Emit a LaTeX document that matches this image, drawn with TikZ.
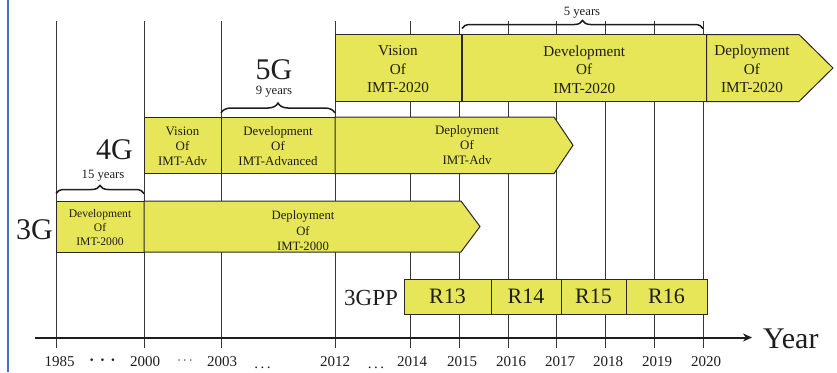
\documentclass[tikz,border=0pt]{standalone}
\usepackage{fontspec}
\setmainfont{Liberation Serif}
\usetikzlibrary{decorations.pathreplacing,arrows.meta}
\definecolor{boxyellow}{RGB}{231,229,88}
\definecolor{edgegray}{RGB}{40,40,40}
\definecolor{gridgray}{RGB}{55,55,55}
\definecolor{leftblue}{RGB}{70,110,200}
\definecolor{inkc}{RGB}{30,30,30}
\newcommand{\myfs}[2]{\fontsize{#1}{#2}\selectfont}
\begin{document}
\begin{tikzpicture}[x=1pt,y=-1pt,
  box/.style={draw=edgegray, fill=boxyellow, line width=1pt, inner sep=0pt, align=center, text=inkc},
  arrowbox/.style={draw=edgegray, fill=boxyellow, line width=1pt},
  boxtext/.style={inner sep=0pt, align=center, text=inkc},
  gridline/.style={draw=gridgray, line width=0.9pt},
  bracket/.style={decorate, decoration={brace, amplitude=#1}, line width=1.5pt, draw=inkc},
  biglabel/.style={inner sep=0pt, text=inkc, font=\myfs{30}{30}},
  yearlabel/.style={inner sep=0pt, text=inkc, font=\myfs{15}{15}},
  spanlabel/.style={inner sep=0pt, text=inkc, font=\myfs{12.7}{13}},
  rlabel/.style={font=\myfs{22}{22}},
  row5/.style={font=\myfs{15.2}{18.5}},
  row4/.style={font=\myfs{12.9}{15}},
  row3/.style={font=\myfs{12.7}{15.5}},
  lowtext/.style={text depth=0pt}
]
\useasboundingbox (0,0) rectangle (837,372);
% left blue rule
\draw[leftblue, line width=2pt] (8,0) -- (8,372);

% grid lines
\foreach \gx in {56,144,221,335,410,459,508,556,605,654,703}
  \draw[gridline] (\gx,21) -- (\gx,348);

% axis
\coordinate (axL) at (35,337.5);
\coordinate (axR) at (752,337.5);
\draw[line width=2pt, draw=inkc, -{Stealth[length=9pt,width=8pt]}] (axL) -- (axR);
\node[biglabel, anchor=west] (year) at (763,339) {Year};

% year labels
\node[yearlabel] (y1985) at (59.5,362) {1985};
\node[yearlabel] (y2000) at (145,362) {2000};
\node[yearlabel] (y2003) at (222,362) {2003};
\node[yearlabel] (y2012) at (335,362) {2012};
\node[yearlabel] (y2014) at (412,362) {2014};
\node[yearlabel] (y2015) at (462,362) {2015};
\node[yearlabel] (y2016) at (511,362) {2016};
\node[yearlabel] (y2017) at (560,362) {2017};
\node[yearlabel] (y2018) at (608,362) {2018};
\node[yearlabel] (y2019) at (657,362) {2019};
\node[yearlabel] (y2020) at (706,362) {2020};
\node[inner sep=0pt, text=inkc, font=\bfseries\myfs{16}{16}] (dotsA) at (102.5,362) {·\,\,·\,\,·};
\node[inner sep=0pt, text=inkc, font=\myfs{12}{12}] (dotsB) at (185,362) {·\,·\,·};
\node[inner sep=0pt, text=inkc, font=\myfs{15}{15}, anchor=base] (dotsC) at (262.5,368) {.\,.\,.};
\node[inner sep=0pt, text=inkc, font=\myfs{15}{15}, anchor=base] (dotsD) at (376,368) {.\,.\,.};

% 5G row
\node[box, row5, minimum width=126, minimum height=67] (v5) at (398,68) {};
\node[boxtext, row5] (v5t) at (398,69.5) {Vision\\Of\\IMT-2020};
\node[box, row5, minimum width=243.5, minimum height=67] (d5) at (584.25,68) {};
\node[boxtext, row5] (d5t) at (584.25,69.5) {Development\\Of\\IMT-2020};
\draw[arrowbox] (706.5,34.5) -- (799,34.5) -- (833,68) -- (799,101.5) -- (706.5,101.5) -- cycle;
\node[boxtext, row5] (dep5) at (752,69) {Deployment\\Of\\IMT-2020};

% 4G row
\node[box, row4, minimum width=77, minimum height=56.5] (v4) at (182.5,145.25) {};
\node[boxtext, row4] (v4t) at (182.5,146.5) {Vision\\Of\\IMT-Adv};
\node[box, row4, minimum width=114, minimum height=56.5] (d4) at (278,145.25) {};
\node[boxtext, row4] (d4t) at (278,146.5) {Development\\Of\\IMT-Advanced};
\draw[arrowbox] (335,117) -- (554,117) -- (573,145.25) -- (554,173.5) -- (335,173.5) -- cycle;
\node[boxtext, row4] (dep4) at (467,145.5) {Deployment\\Of\\IMT-Adv};

% 3G row
\node[box, minimum width=88, minimum height=51] (d3) at (100,226.5) {};
\node[boxtext, font=\myfs{11.6}{14}] (d3t) at (100,227.5) {Development\\Of\\IMT-2000};
\draw[arrowbox] (144,201) -- (461,201) -- (480,226.5) -- (461,252) -- (144,252) -- cycle;
\node[boxtext, row3] (dep3) at (303,231) {Deployment\\Of\\IMT-2000};

% 3GPP row
\node[box, rlabel, minimum width=87, minimum height=35] (r13) at (447.5,296.5) {R13};
\node[box, rlabel, minimum width=70, minimum height=35] (r14) at (526,296.5) {R14};
\node[box, rlabel, minimum width=65, minimum height=35] (r15) at (593.5,296.5) {R15};
\node[box, rlabel, minimum width=81, minimum height=35] (r16) at (666.5,296.5) {R16};
\node[inner sep=0pt, text=inkc, font=\myfs{23}{23}] (gpp) at (371,298) {3GPP};

% generation labels
\node[biglabel] (g3) at (34.5,230) {3G};
\node[biglabel] (g4) at (114.5,150) {4G};
\node[biglabel] (g5) at (274,70) {5G};

% braces
\coordinate (b15a) at (56,193.5);
\coordinate (b15b) at (144,193.5);
\draw[bracket=8pt] (b15a) -- (b15b);
\node[spanlabel] (t15) at (103,176) {15 years};
\coordinate (b9a) at (221,113);
\coordinate (b9b) at (335,113);
\draw[bracket=10pt] (b9a) -- (b9b);
\node[spanlabel] (t9) at (274,92) {9 years};
\coordinate (b5a) at (462,28.5);
\coordinate (b5b) at (703,28.5);
\draw[bracket=8pt] (b5a) -- (b5b);
\node[spanlabel] (t5) at (582,13) {5 years};
\end{tikzpicture}
\end{document}
